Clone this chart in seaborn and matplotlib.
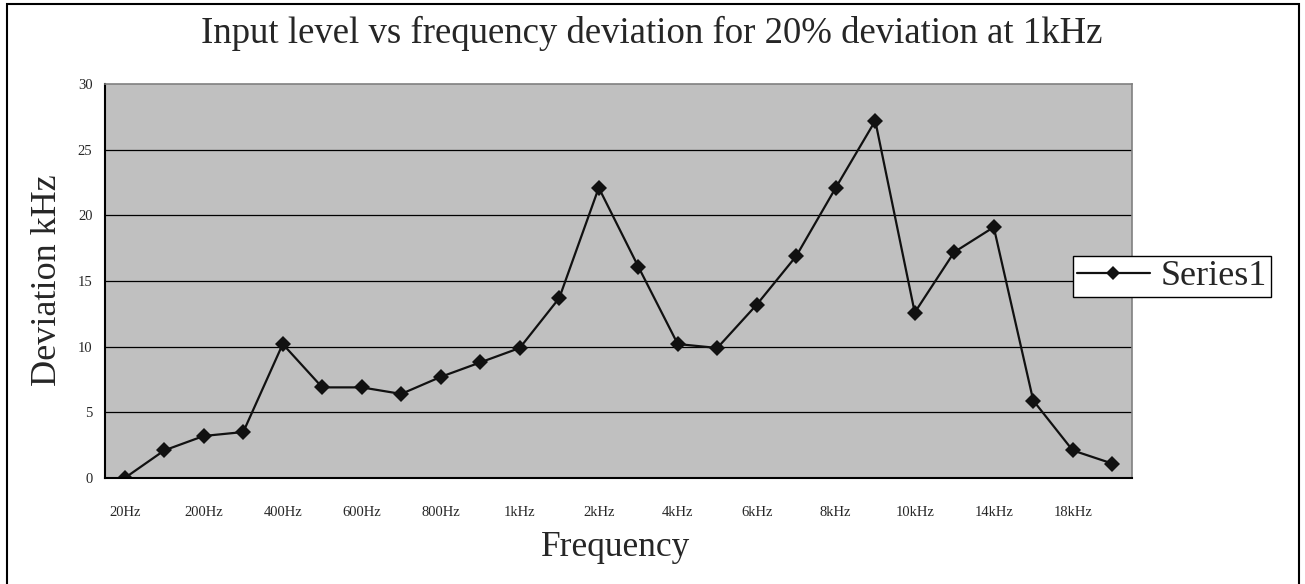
import matplotlib
matplotlib.use("Agg")
import matplotlib.pyplot as plt
import seaborn as sns
import pandas as pd
from matplotlib.patches import Rectangle
from matplotlib.lines import Line2D

frequencies = ["20Hz", "100Hz", "200Hz", "300Hz", "400Hz", "500Hz", "600Hz", "700Hz",
               "800Hz", "900Hz", "1kHz", "1.5kHz", "2kHz", "3kHz", "4kHz", "5kHz",
               "6kHz", "7kHz", "8kHz", "9kHz", "10kHz", "12kHz", "14kHz", "16kHz",
               "18kHz", "20kHz"]
deviation = [0.0, 2.1, 3.2, 3.5, 10.2, 6.9, 6.9, 6.4, 7.7, 8.8, 9.9, 13.7, 22.1, 16.1,
             10.2, 9.9, 13.2, 16.9, 22.1, 27.2, 12.6, 17.2, 19.1, 5.9, 2.1, 1.1]
series_name = "Series1"
title = "Input level vs frequency deviation for 20% deviation at 1kHz"
xlabel = "Frequency"
ylabel = "Deviation kHz"
yticks = [0, 5, 10, 15, 20, 25, 30]

sns.set_theme(style="white")
plt.rcParams["font.family"] = ["Liberation Serif", "DejaVu Serif"]

W, H = 1305, 584
fig = plt.figure(figsize=(W / 100, H / 100), dpi=100)
ax = fig.add_axes([105 / W, 1 - 478 / H, (1132 - 105) / W, (478 - 84) / H])
ax.set_facecolor("#C0C0C0")

df = pd.DataFrame({"freq": frequencies, "dev": deviation})
sns.lineplot(data=df, x="freq", y="dev", sort=False, ax=ax, color="#111111",
             linewidth=1.6, marker="D", markersize=8.5, markeredgewidth=0,
             markerfacecolor="#111111", legend=False)

n = len(frequencies)
ax.set_xlim(-0.5, n - 0.5)
ax.set_ylim(0, 30)

# y axis
ax.set_yticks(yticks)
ax.set_yticklabels([str(v) for v in yticks], fontsize=10.5)
ax.tick_params(axis="y", direction="out", length=3, width=1, color="black", pad=6)
for v in yticks[1:-1]:
    ax.axhline(v, color="black", linewidth=0.9, zorder=1)

# x axis: ticks at boundaries, labels at every other category
ax.set_xticks([i + 0.5 for i in range(n - 1)])
ax.set_xticklabels([])
ax.tick_params(axis="x", which="major", direction="in", length=4, width=1, color="black")
ax.set_xticks(list(range(0, n, 2)), minor=True)
ax.set_xticklabels([frequencies[i] for i in range(0, n, 2)], minor=True, fontsize=10.5)
ax.tick_params(axis="x", which="minor", length=0, pad=20)

for s in ["left", "bottom"]:
    ax.spines[s].set_color("black")
    ax.spines[s].set_linewidth(1.5)
for s in ["top", "right"]:
    ax.spines[s].set_color("#808080")
    ax.spines[s].set_linewidth(1.2)

ax.set_xlabel("")
ax.set_ylabel("")
fig.text(616 / W, 1 - 548 / H, xlabel, fontsize=25.5, ha="center", va="center")
fig.text(48 / W, 1 - 280 / H, ylabel, fontsize=26, ha="center", va="center", rotation=90)
fig.text(652 / W, 1 - 33 / H, title, fontsize=26.5, ha="center", va="center")

handle = Line2D([], [], color="#111111", linewidth=1.6, marker="D", markersize=7,
                markeredgewidth=0)
leg = fig.legend([handle], [series_name], loc="center left",
                 bbox_to_anchor=(1073 / W, 1 - 276.5 / H), fontsize=26,
                 frameon=True, fancybox=False, handlelength=2.0, handletextpad=0.3,
                 borderpad=0.12, borderaxespad=0, framealpha=1)
leg.get_frame().set_edgecolor("black")
leg.get_frame().set_facecolor("white")
leg.get_frame().set_linewidth(1.0)

# outer chart border
fig.patches.append(Rectangle((7 / W, -0.05), (1299 - 7) / W, 1.05 - 4 / H,
                             transform=fig.transFigure, fill=False,
                             edgecolor="black", linewidth=1.5))

fig.savefig("out.png", dpi=100)
